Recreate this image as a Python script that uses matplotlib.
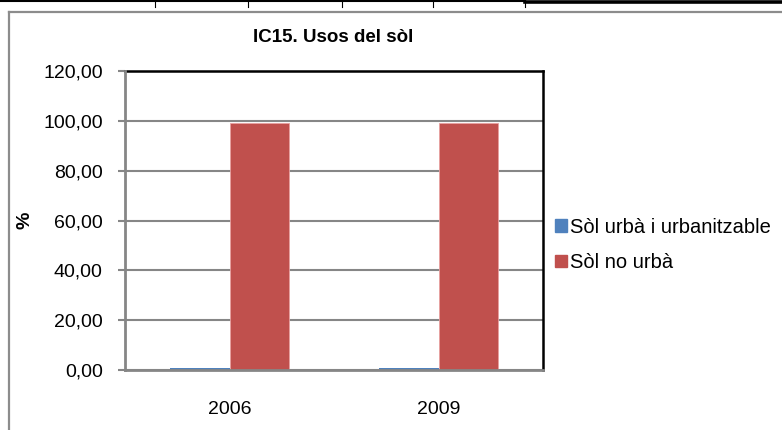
import numpy as np
import matplotlib.pyplot as plt
from matplotlib.lines import Line2D
from matplotlib.patches import Patch
from matplotlib.ticker import FuncFormatter

plt.rcParams['font.family'] = ['Liberation Sans', 'DejaVu Sans']

# dades
anys = ['2006', '2009']
series = ['Sòl urbà i urbanitzable', 'Sòl no urbà']
sol_urba = [0.8, 0.8]
sol_no_urba = [99.2, 99.2]
yticks = [0, 20, 40, 60, 80, 100, 120]
colors = ['#4F81BD', '#C0504D']

W, H = 782, 430
fig = plt.figure(figsize=(W / 100, H / 100), dpi=100)

def fx(px):
    return px / W

def fy(py):
    return 1 - py / H

# línies de la full de càlcul a dalt
fig.add_artist(Line2D([0, fx(525)], [fy(1), fy(1)], color='black', lw=1.5))
fig.add_artist(Line2D([fx(525), 1], [fy(1.5), fy(1.5)], color='black', lw=2.6))
for xv in [155, 248, 342, 433, 525]:
    fig.add_artist(Line2D([fx(xv), fx(xv)], [fy(0), fy(7)], color='black', lw=0.8))

# vora del gràfic
fig.add_artist(Line2D([fx(9), fx(9)], [fy(12), 0], color='#8c8c8c', lw=1.6))
fig.add_artist(Line2D([fx(9), 1], [fy(12), fy(12)], color='#8c8c8c', lw=1.6))

ax = fig.add_axes([fx(125), fy(370), fx(543) - fx(125), fy(71) - fy(370)])

x = np.arange(len(anys))
w = 0.285
ax.bar(x - w / 2, sol_urba, w, color=colors[0], zorder=3)
ax.bar(x + w / 2, sol_no_urba, w, color=colors[1], edgecolor='#e8a0a0', lw=0.6, zorder=3)

ax.set_xlim(-0.5, 1.5)
ax.set_ylim(0, 120)
ax.set_yticks(yticks)
ax.yaxis.set_major_formatter(FuncFormatter(lambda v, p: f'{v:.2f}'.replace('.', ',')))
ax.set_xticks(x)
ax.set_xticklabels(anys)
ax.tick_params(axis='y', direction='out', length=5, width=1.5, color='#868686',
               labelsize=14, pad=11)
ax.tick_params(axis='x', length=0, labelsize=14, pad=22)
ax.yaxis.grid(True, color='#868686', lw=1.5, zorder=0)
ax.set_axisbelow(True)

for s in ['top', 'right']:
    ax.spines[s].set_color('black')
    ax.spines[s].set_linewidth(1.8)
for s in ['left', 'bottom']:
    ax.spines[s].set_color('#868686')
    ax.spines[s].set_linewidth(2)
    ax.spines[s].set_zorder(4)

fig.text(fx(25), fy(220), '%', rotation=90, fontsize=14, fontweight='bold',
         ha='center', va='center')
fig.text(fx(333), fy(37), 'IC15. Usos del sòl', fontsize=13.5, fontweight='bold',
         ha='center', va='center')

handles = [Patch(color=c) for c in colors]
fig.legend(handles, series, loc='center left', bbox_to_anchor=(fx(547), fy(245)),
           frameon=False, fontsize=14.5, handlelength=0.6, handleheight=0.6,
           handletextpad=0.15, labelspacing=0.8, borderaxespad=0)

fig.savefig('out.png', dpi=100)
